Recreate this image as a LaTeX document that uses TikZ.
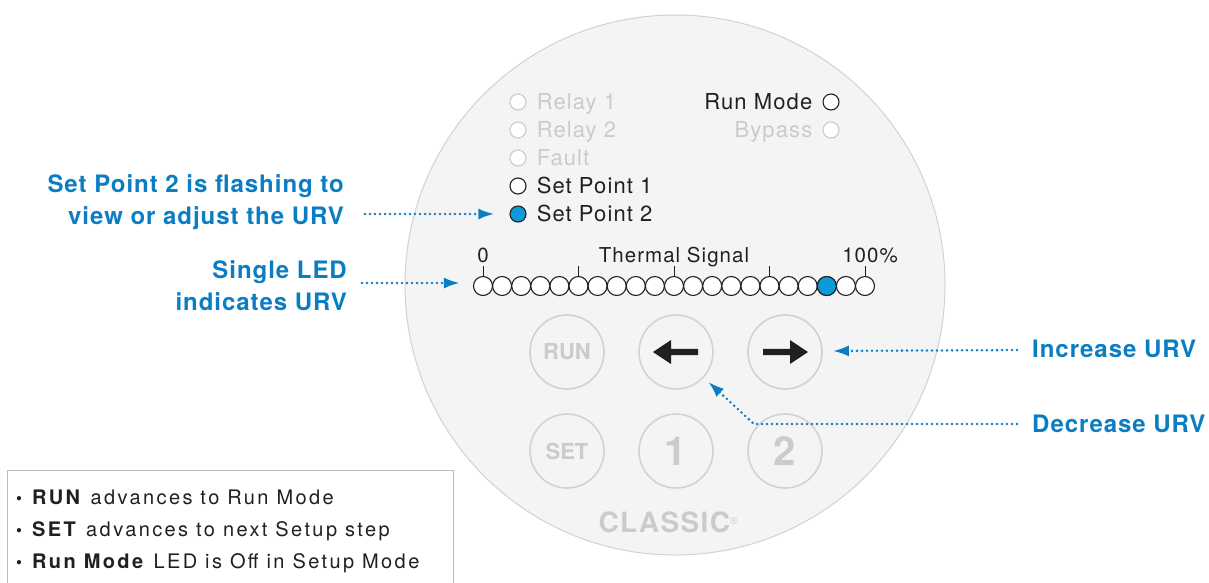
\documentclass[tikz,border=0pt]{standalone}
\usepackage{fontspec}
\setmainfont{TeX Gyre Heros}
\newfontfamily\panelfont[LetterSpace=5]{TeX Gyre Heros}
\newfontfamily\notefont[LetterSpace=4]{TeX Gyre Heros}
\newfontfamily\boxfont[LetterSpace=12]{TeX Gyre Heros}
\usetikzlibrary{arrows.meta, positioning, calc}
\definecolor{urvblue}{HTML}{0B7DC3}
\definecolor{ledblue}{HTML}{0A9BD8}
\definecolor{panel}{HTML}{F4F4F4}
\definecolor{rim}{HTML}{D2D2D2}
\definecolor{faded}{HTML}{CBCBCB}
\definecolor{ink}{HTML}{231F20}
\definecolor{frame}{HTML}{BDBDBD}
\tikzset{
  led/.style={circle, draw=ink, fill=white, line width=1.1pt, minimum size=16pt, inner sep=0pt},
  ledoff/.style={led, draw=faded},
  bar/.style={circle, draw=ink, fill=white, line width=1.1pt, minimum size=19pt, inner sep=0pt},
  key/.style={circle, draw=rim, line width=1.6pt, minimum size=74pt, inner sep=0pt, text=faded,
              font=\fontsize{22}{22}\selectfont\bfseries},
  lbl/.style={font=\panelfont\fontsize{22}{24}\selectfont, text=ink, inner sep=0pt, text height=15.5pt, text depth=0pt},
  scale/.style={lbl, font=\panelfont\fontsize{20.5}{24}\selectfont, above=13pt of #1},
  note/.style={font=\notefont\fontsize{24}{32}\selectfont\bfseries, text=urvblue, align=right, inner sep=0pt},
  pointer/.style={-{Latex[length=16pt,width=11pt]}, urvblue, line width=2.8pt,
                  dash pattern=on 0pt off 5pt, line cap=round},
}
\newcommand{\dotitem}{{\fontsize{17}{17}\selectfont •}}
\begin{document}
\begin{tikzpicture}[x=1pt,y=-1pt]
  \useasboundingbox (0,0) rectangle (1209,582);
  \fill[white] (0,0) rectangle (1209,582);
  % face of the controller
  \node[circle, draw=rim, fill=panel, line width=1pt, minimum size=540pt, inner sep=0pt] (face) at (675,285) {};

  % status LEDs
  \node[ledoff] (r1) at (518,102) {};
  \node[lbl, text=faded, right=10pt of r1] {Relay 1};
  \node[ledoff] (r2) at (518,130) {};
  \node[lbl, text=faded, right=10pt of r2] {Relay 2};
  \node[ledoff] (flt) at (518,158) {};
  \node[lbl, text=faded, right=10pt of flt] {Fault};
  \node[led] (sp1) at (518,186) {};
  \node[lbl, right=10pt of sp1] {Set Point 1};
  \node[led, fill=ledblue] (sp2) at (518,214) {};
  \node[lbl, right=10pt of sp2] {Set Point 2};
  \node[led] (runled) at (831,102) {};
  \node[lbl, left=10pt of runled] {Run Mode};
  \node[ledoff] (byp) at (831,130) {};
  \node[lbl, text=faded, left=10pt of byp] {Bypass};

  % thermal signal bar
  \foreach \i in {0,...,20}
    \node[bar] (t\i) at (483+19.1*\i,286) {};
  \node[bar, fill=ledblue] (t18) at (t18) {};
  \foreach \i in {0,5,...,20}
    \draw[ink, line width=1pt] (t\i.north) -- ++(0,-10);
  \node[scale=t0] (zero) {0};
  \node[scale=t10] (sig) {Thermal Signal};
  \node[scale=t20, xshift=5pt] (full) {100\%};

  % keys
  \node[key] (runkey) at (567,352) {RUN};
  \node[key] (leftkey) at (676,352) {};
  \node[key] (rightkey) at (785,352) {};
  \node[key] (setkey) at (567,451) {SET};
  \node[key, font=\fontsize{40}{40}\selectfont\bfseries] (onekey) at (676,451) {1};
  \node[key, font=\fontsize{40}{40}\selectfont\bfseries] (twokey) at (785,451) {2};
  \fill[ink] (leftkey.center) ++(-23,0) -- ++(18,-12) -- ++(0,8.8) -- ++(27,0) -- ++(0,6.4)
    -- ++(-27,0) -- ++(0,8.8) -- cycle;
  \fill[ink] (rightkey.center) ++(23,0) -- ++(-18,-12) -- ++(0,8.8) -- ++(-27,0) -- ++(0,6.4)
    -- ++(27,0) -- ++(0,8.8) -- cycle;
  \node[font=\panelfont\fontsize{28}{28}\selectfont\bfseries, text=faded] (brand) at (668,522)
    {CLASSIC\raisebox{8pt}{\fontsize{10}{10}\selectfont\mdseries ®}};

  % call-outs
  \node[note, anchor=east] (sp2note) at (344,202) {Set Point 2 is flashing to\\view or adjust the URV};
  \draw[pointer] ($(sp2note.east |- sp2)+(21,0)$) -- ([xshift=-15pt]sp2.west);
  \node[note, anchor=east] (barnote) at (347,286) {Single LED\\indicates URV};
  \draw[pointer] ($(barnote.east |- t0)+(15,-3)$) -- ($(t0.west)+(-13,-3)$);
  \node[note, anchor=west] (incnote) at (1032,349) {Increase URV};
  \draw[pointer] ($(incnote.west)+(-15,1)$) -- ($(rightkey.east)+(10,-1)$);
  \node[note, anchor=west] (decnote) at (1032,424) {Decrease URV};
  \coordinate (bend) at (754,424);
  \draw[pointer] ($(decnote.west)+(-15,0)$) -- (bend) -- ($(leftkey.center)!44pt!(bend)$);

  % notes box
  \draw[frame, line width=1pt] (7,600) |- (453,470) -- (453,600);
  \node[anchor=north west, align=left, inner sep=0pt, text=ink,
        font=\boxfont\fontsize{20}{32}\selectfont] (legend) at (16,490)
    {\dotitem\ \textbf{RUN} advances to Run Mode\\
     \dotitem\ \textbf{SET} advances to next Setup step\\
     \dotitem\ \textbf{Run Mode} LED is Off in Setup Mode};
\end{tikzpicture}
\end{document}
